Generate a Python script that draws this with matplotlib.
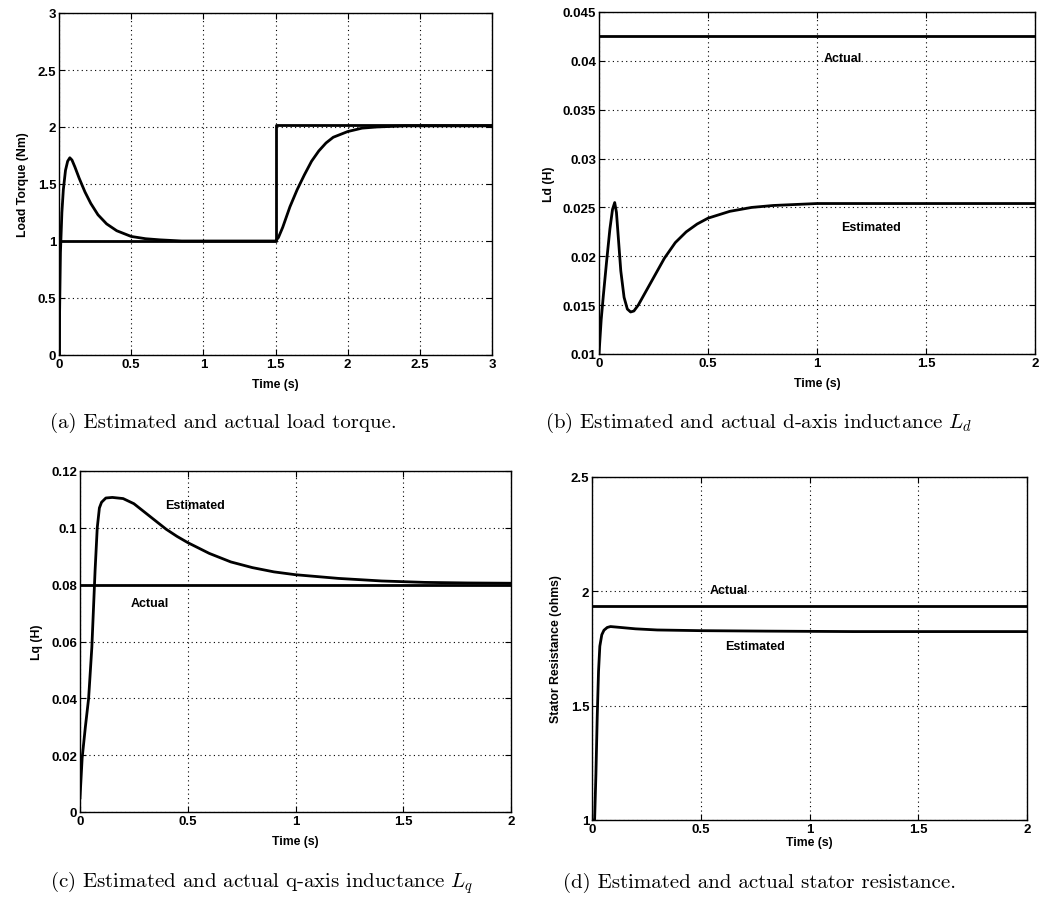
import numpy as np
import matplotlib.pyplot as plt

# (a) load torque
torque_t_act = [0.0, 0.0, 1.5, 1.5, 3.0]
torque_act = [0.0, 1.0, 1.0, 2.02, 2.02]
torque_t_est = [0, 0.01, 0.02, 0.03, 0.045, 0.06, 0.075, 0.09, 0.11, 0.14, 0.18, 0.22,
                0.27, 0.33, 0.4, 0.5, 0.6, 0.7, 0.85, 1.0, 1.2, 1.4, 1.5, 1.52, 1.55,
                1.6, 1.65, 1.7, 1.75, 1.8, 1.85, 1.9, 2.0, 2.1, 2.2, 2.4, 2.6, 3.0]
torque_est = [0, 0.9, 1.25, 1.45, 1.62, 1.70, 1.73, 1.71, 1.65, 1.55, 1.43, 1.33,
              1.23, 1.15, 1.09, 1.04, 1.02, 1.01, 1.0, 1.0, 1.0, 1.0, 1.0, 1.03, 1.12,
              1.3, 1.45, 1.58, 1.7, 1.79, 1.86, 1.91, 1.96, 1.99, 2.0, 2.01, 2.01, 2.01]

# (b) d-axis inductance
ld_t_act = [0.0, 2.0]
ld_act = [0.0425, 0.0425]
ld_t_est = [0, 0.01, 0.02, 0.035, 0.05, 0.062, 0.072, 0.08, 0.09, 0.10, 0.115, 0.13,
            0.145, 0.16, 0.18, 0.21, 0.25, 0.3, 0.35, 0.4, 0.45, 0.5, 0.6, 0.7, 0.8,
            0.9, 1.0, 1.5, 2.0]
ld_est = [0.0100, 0.0135, 0.0160, 0.0195, 0.0228, 0.0248, 0.0255, 0.0245, 0.0215,
          0.0185, 0.0158, 0.0146, 0.0143, 0.0144, 0.0150, 0.0162, 0.0178, 0.0198,
          0.0214, 0.0225, 0.0233, 0.0239, 0.0246, 0.0250, 0.0252, 0.0253, 0.0254,
          0.0254, 0.0254]

# (c) q-axis inductance
lq_t_act = [0.0, 2.0]
lq_act = [0.0800, 0.0800]
lq_t_est = [0, 0.01, 0.025, 0.04, 0.055, 0.07, 0.08, 0.09, 0.1, 0.12, 0.15, 0.2, 0.25,
            0.3, 0.35, 0.4, 0.45, 0.5, 0.6, 0.7, 0.8, 0.9, 1.0, 1.2, 1.4, 1.6, 1.8, 2.0]
lq_est = [0.005, 0.019, 0.03, 0.040, 0.058, 0.085, 0.100, 0.107, 0.109, 0.1105,
          0.1107, 0.1103, 0.1085, 0.1055, 0.1025, 0.0995, 0.097, 0.0948, 0.0910,
          0.0880, 0.0860, 0.0845, 0.0835, 0.0822, 0.0813, 0.0808, 0.0806, 0.0805]

# (d) stator resistance
rs_t_act = [0.0, 2.0]
rs_act = [1.935, 1.935]
rs_t_est = [0, 0.012, 0.018, 0.024, 0.03, 0.036, 0.045, 0.055, 0.07, 0.085, 0.12, 0.2,
            0.3, 0.5, 0.8, 1.2, 1.6, 2.0]
rs_est = [1.0, 1.0, 1.2, 1.45, 1.65, 1.76, 1.81, 1.83, 1.842, 1.846, 1.843, 1.836,
          1.831, 1.828, 1.826, 1.824, 1.824, 1.824]

captions = ["(a) Estimated and actual load torque.",
            "(b) Estimated and actual d-axis inductance $L_d$",
            "(c) Estimated and actual q-axis inductance $L_q$",
            "(d) Estimated and actual stator resistance."]

plt.rcParams['font.family'] = ['Liberation Sans', 'DejaVu Sans']
plt.rcParams['font.weight'] = 'bold'
plt.rcParams['mathtext.fontset'] = 'cm'

fig = plt.figure(figsize=(10.41, 9.03), dpi=100)

W, H = 1041, 903


def make_axes(left, top, right, bottom):
    """Axes from pixel box of the reference."""
    return fig.add_axes([left / W, (H - bottom) / H, (right - left) / W, (bottom - top) / H])


def style(ax, xlim, ylim, xticks, yticks, ylabel):
    ax.set_xlim(xlim)
    ax.set_ylim(ylim)
    ax.set_xticks(xticks)
    ax.set_yticks(yticks)
    ax.set_xticklabels([f"{v:g}" for v in xticks])
    ax.set_yticklabels([f"{v:g}" for v in yticks])
    ax.grid(True, color='k', linestyle=(0, (1, 3)), linewidth=0.8)
    ax.tick_params(direction='in', top=True, right=True, length=4, width=0.8,
                   labelsize=9.5, pad=2)
    for s in ax.spines.values():
        s.set_linewidth(1.0)
    ax.set_xlabel("Time (s)", fontsize=8.8, fontweight='bold', labelpad=6)
    ax.set_ylabel(ylabel, fontsize=8.8, fontweight='bold', labelpad=6)


def label(ax, x, y, s):
    ax.text(x, y, s, fontsize=9, fontweight='bold', ha='center', va='center')


lw = 2.0

ax1 = make_axes(59, 14, 492, 356)
ax1.plot(torque_t_act, torque_act, color='k', lw=lw)
ax1.plot(torque_t_est, torque_est, color='k', lw=lw)
style(ax1, (0, 3), (0, 3), [0, 0.5, 1, 1.5, 2, 2.5, 3], [0, 0.5, 1, 1.5, 2, 2.5, 3],
      "Load Torque (Nm)")

ax2 = make_axes(599, 13, 1035, 355)
ax2.plot(ld_t_act, ld_act, color='k', lw=lw)
ax2.plot(ld_t_est, ld_est, color='k', lw=lw)
style(ax2, (0, 2), (0.01, 0.045), [0, 0.5, 1, 1.5, 2],
      [0.01, 0.015, 0.02, 0.025, 0.03, 0.035, 0.04, 0.045], "Ld (H)")
label(ax2, 1.12, 0.0403, "Actual")
label(ax2, 1.25, 0.0230, "Estimated")

ax3 = make_axes(80, 472, 511, 813)
ax3.plot(lq_t_act, lq_act, color='k', lw=lw)
ax3.plot(lq_t_est, lq_est, color='k', lw=lw)
style(ax3, (0, 2), (0, 0.12), [0, 0.5, 1, 1.5, 2],
      [0, 0.02, 0.04, 0.06, 0.08, 0.1, 0.12], "Lq (H)")
label(ax3, 0.534, 0.108, "Estimated")
label(ax3, 0.325, 0.0737, "Actual")

ax4 = make_axes(592, 478, 1027, 821)
ax4.plot(rs_t_act, rs_act, color='k', lw=lw)
ax4.plot(rs_t_est, rs_est, color='k', lw=lw)
style(ax4, (0, 2), (1, 2.5), [0, 0.5, 1, 1.5, 2], [1, 1.5, 2, 2.5],
      "Stator Resistance (ohms)")
ax4.xaxis.labelpad = 1
label(ax4, 0.627, 2.008, "Actual")
label(ax4, 0.75, 1.76, "Estimated")

cap_pos = [(50, 423), (545, 423), (50, 883), (563, 883)]
for (px, py), cap in zip(cap_pos, captions):
    fig.text(px / W, (H - py) / H, cap, family='cmr10', fontweight='normal',
             fontsize=15, ha='left', va='center')

fig.savefig("out.png", dpi=100)
